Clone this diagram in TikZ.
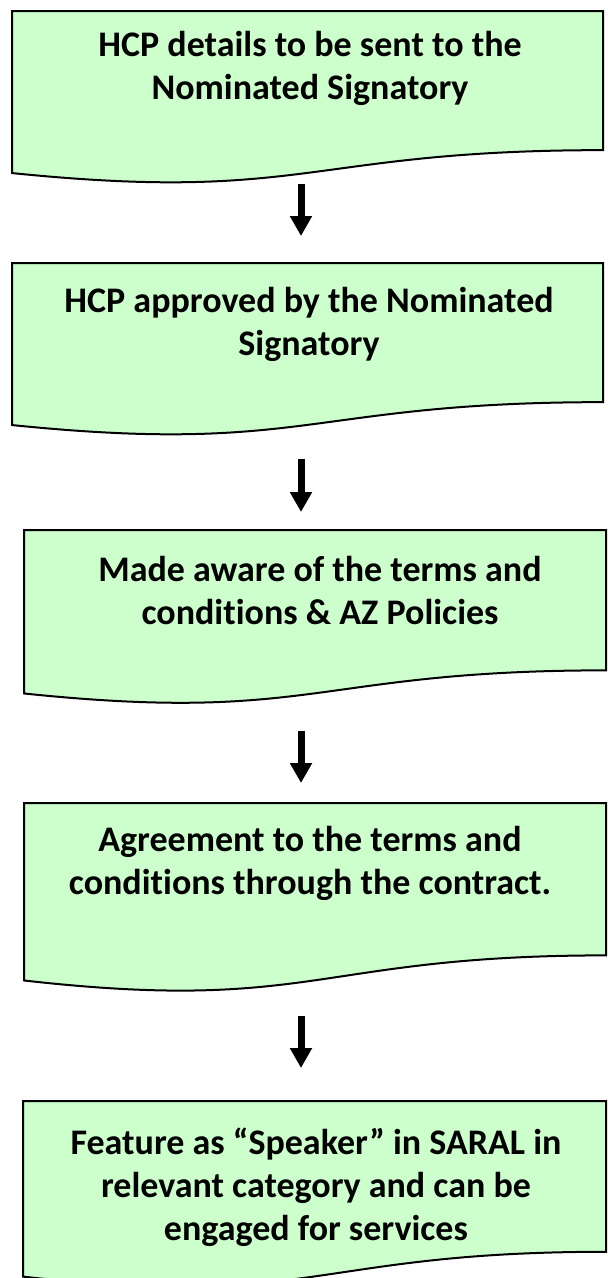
\documentclass[tikz,border=0pt]{standalone}
\usepackage{fontspec}
\setmainfont{Carlito}[Ligatures=NoCommon]
\usetikzlibrary{arrows.meta}
\definecolor{boxgreen}{HTML}{CCFFCC}
\tikzset{
  docstyle/.style={fill=boxgreen, draw=black, line width=2pt, line join=miter},
  txt/.style={align=center, inner sep=0pt, font=\fontsize{36}{43}\selectfont\bfseries},
  flowarrow/.style={line width=7pt, -{Triangle[length=20pt,width=21pt]}}
}
% #1 x0, #2 y0, #3 w, #4 h
\newcommand\docshape[4]{%
  \path[docstyle] (#1,#2) -- ({#1+#3},#2) -- ({#1+#3},{#2+0.802*#4})
    .. controls ({#1+0.5*#3},{#2+0.802*#4}) and ({#1+0.5*#3},{#2+1.1075*#4}) ..
    (#1,{#2+0.934*#4}) -- cycle;%
}
\begin{document}
\begin{tikzpicture}[x=1pt,y=-1pt]
\useasboundingbox (0,0) rectangle (608,1278);
\docshape{12}{11}{591}{173.5}
\docshape{12}{263}{591}{173.5}
\docshape{24}{530}{582}{175}
\docshape{24}{803}{582}{190}
\docshape{23}{1101}{583}{188}

\node[txt] (t1) at (310,68) {HCP details to be sent to the\\Nominated Signatory};
\node[txt] (t2) at (309,324) {HCP approved by the Nominated\\Signatory};
\node[txt] (t3) at (320,590) {Made aware of the terms and\\conditions \& AZ Policies};
\node[txt] (t4) at (310,863) {Agreement to the terms and\\conditions through the contract.};
\node[txt] (t5) at (316,1187) {Feature as “Speaker” in SARAL in\\relevant category and can be\\engaged for services};

\coordinate (a1s) at (301,184); \coordinate (a1e) at (301,236);
\coordinate (a2s) at (301,459); \coordinate (a2e) at (301,512);
\coordinate (a3s) at (301,731); \coordinate (a3e) at (301,783);
\coordinate (a4s) at (301,1016); \coordinate (a4e) at (301,1068);
\draw[flowarrow] (a1s) -- (a1e);
\draw[flowarrow] (a2s) -- (a2e);
\draw[flowarrow] (a3s) -- (a3e);
\draw[flowarrow] (a4s) -- (a4e);
\end{tikzpicture}
\end{document}
